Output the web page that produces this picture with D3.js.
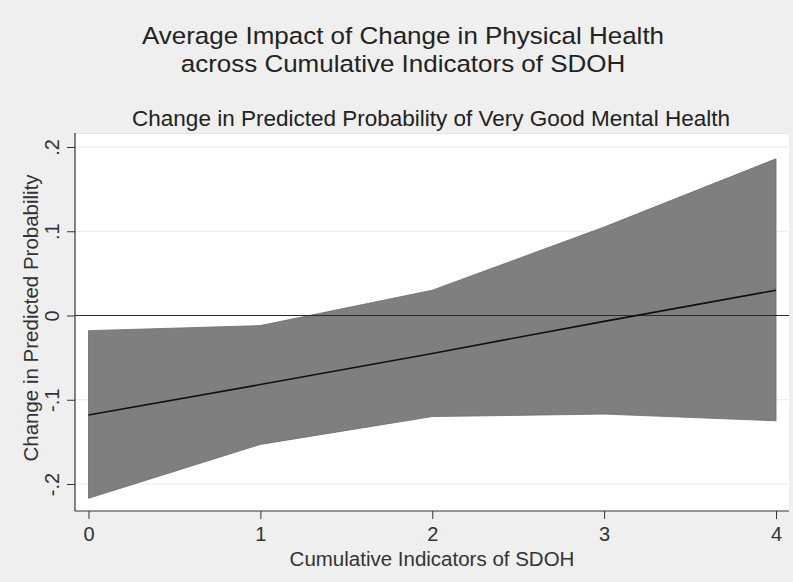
<!DOCTYPE html>
<html>
<head>
<meta charset="utf-8">
<script src="https://cdn.jsdelivr.net/npm/d3@7"></script>
<style>
  html, body { margin: 0; padding: 0; background: #efefef; }
  svg { display: block; font-family: "Liberation Sans", Arial, sans-serif; }
</style>
</head>
<body>
<svg id="chart" width="793" height="582"></svg>
<script>
// Cumulative SDOH indicator counts
const indicators = [0, 1, 2, 3, 4];
// Average marginal effect and its 95% confidence bounds
const effect = [-0.118, -0.082, -0.045, -0.007, 0.030];
const lower  = [-0.217, -0.153, -0.120, -0.117, -0.125];
const upper  = [-0.018, -0.012, 0.030, 0.105, 0.186];
const yTicks = [-0.2, -0.1, 0, 0.1, 0.2];
const yTickLabels = ["-.2", "-.1", "0", ".1", ".2"];

const titleLines = ["Average Impact of Change in Physical Health", "across Cumulative Indicators of SDOH"];
const subtitle = "Change in Predicted Probability of Very Good Mental Health";
const xTitle = "Cumulative Indicators of SDOH";
const yTitle = "Change in Predicted Probability";

const svg = d3.select("#chart");
const plot = { left: 75, right: 789, top: 133, bottom: 511 };

const x = d3.scaleLinear().domain([0, 4]).range([88.5, 776]);
const y = d3.scaleLinear().domain([-0.2, 0.2]).range([484, 147]);

// plot region
svg.append("rect")
  .attr("x", plot.left).attr("y", plot.top)
  .attr("width", plot.right - plot.left).attr("height", plot.bottom - plot.top)
  .attr("fill", "#ffffff");
svg.append("line")
  .attr("x1", plot.left).attr("x2", plot.right)
  .attr("y1", plot.top + 0.5).attr("y2", plot.top + 0.5)
  .attr("stroke", "#e6e6e6");

// horizontal gridlines
svg.append("g").selectAll("line").data(yTicks).join("line")
  .attr("x1", plot.left).attr("x2", plot.right)
  .attr("y1", d => y(d)).attr("y2", d => y(d))
  .attr("stroke", "#eaeaea").attr("stroke-width", 1.2);

// confidence band
const data = indicators.map((v, i) => ({ x: v, lo: lower[i], hi: upper[i], m: effect[i] }));
svg.append("path").datum(data)
  .attr("d", d3.area().x(d => x(d.x)).y0(d => y(d.lo)).y1(d => y(d.hi)))
  .attr("fill", "#7f7f7f").attr("stroke", "#6a6a6a").attr("stroke-width", 0.8);

// zero reference line
svg.append("line")
  .attr("x1", plot.left).attr("x2", plot.right)
  .attr("y1", y(0)).attr("y2", y(0))
  .attr("stroke", "#2a2a2a").attr("stroke-width", 1.2);

// marginal effect line
svg.append("path").datum(data)
  .attr("d", d3.line().x(d => x(d.x)).y(d => y(d.m)))
  .attr("fill", "none").attr("stroke", "#111").attr("stroke-width", 1.6);

// y axis
const yAxis = d3.axisLeft(y).tickValues(yTicks).tickSize(8).tickPadding(6)
  .tickFormat((d, i) => yTickLabels[i]);
const gy = svg.append("g").attr("transform", `translate(${plot.left},0)`).call(yAxis);
gy.select(".domain").attr("d", `M-0,${plot.top}V${plot.bottom}`).attr("stroke", "#333").attr("stroke-width", 1.2);
gy.selectAll(".tick line").attr("stroke", "#333");
gy.selectAll(".tick text")
  .attr("font-size", 20).attr("fill", "#333")
  .attr("text-anchor", "middle")
  .attr("transform", "translate(-23,0) rotate(-90)")
  .attr("x", 0).attr("y", 0).attr("dy", "0.35em");

// x axis
const xAxis = d3.axisBottom(x).tickValues(indicators).tickSize(8).tickPadding(8)
  .tickFormat(d3.format("d"));
const gx = svg.append("g").attr("transform", `translate(0,${plot.bottom})`).call(xAxis);
gx.select(".domain").attr("d", `M${plot.left},0H${plot.right}`).attr("stroke", "#333").attr("stroke-width", 1.2);
gx.selectAll(".tick line").attr("stroke", "#333");
gx.selectAll(".tick text").attr("font-size", 20).attr("fill", "#333");

// two-line main title, slightly widened so the lines keep clear of each other
svg.append("g").selectAll("text").data(titleLines).join("text")
  .attr("x", 403).attr("y", (d, i) => 44 + i * 27.5)
  .attr("text-anchor", "middle").attr("font-size", 24.5).attr("fill", "#222")
  .text(d => d)
  .each(function() {
    const w = this.getComputedTextLength();
    d3.select(this).attr("textLength", w * 1.06).attr("lengthAdjust", "spacingAndGlyphs");
  });
svg.append("text")
  .attr("x", 431).attr("y", 126)
  .attr("text-anchor", "middle").attr("font-size", 22.5).attr("fill", "#222")
  .text(subtitle);
svg.append("text")
  .attr("x", 432).attr("y", 566)
  .attr("text-anchor", "middle").attr("font-size", 20.5).attr("fill", "#333")
  .text(xTitle);
svg.append("text")
  .attr("transform", `translate(38,${(plot.top + plot.bottom) / 2 - 4}) rotate(-90)`)
  .attr("text-anchor", "middle").attr("font-size", 20.5).attr("fill", "#333")
  .text(yTitle);
</script>
</body>
</html>
